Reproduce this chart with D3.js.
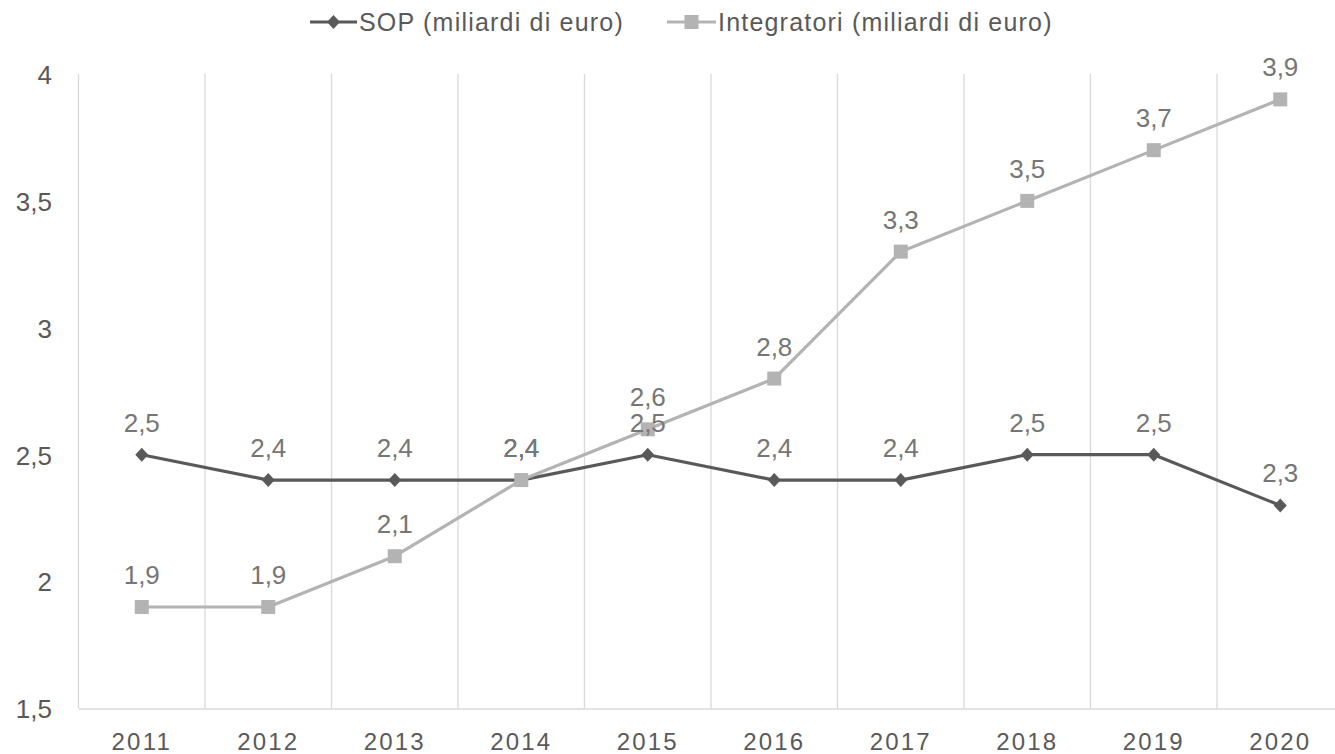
<!DOCTYPE html>
<html>
<head>
<meta charset="utf-8">
<script src="https://cdn.jsdelivr.net/npm/d3@7"></script>
<style>
  html, body { margin: 0; padding: 0; background: #ffffff; }
  svg { display: block; font-family: "Liberation Sans", Arial, Helvetica, sans-serif; }
</style>
</head>
<body>
<svg id="chart" width="1335" height="754"></svg>
<script>
// Anni e serie (miliardi di euro)
const years = ["2011", "2012", "2013", "2014", "2015", "2016", "2017", "2018", "2019", "2020"];
const sopValues = [2.5, 2.4, 2.4, 2.4, 2.5, 2.4, 2.4, 2.5, 2.5, 2.3];
const integratoriValues = [1.9, 1.9, 2.1, 2.4, 2.6, 2.8, 3.3, 3.5, 3.7, 3.9];
const yTicks = [1.5, 2, 2.5, 3, 3.5, 4];
const seriesNames = ["SOP (miliardi di euro)", "Integratori (miliardi di euro)"];

const svg = d3.select("#chart");
const fmt = v => String(v).replace(".", ",");

const x = d3.scaleBand().domain(years).range([78.5, 1343.5]).padding(0);
const y = d3.scaleLinear().domain([1.5, 4]).range([708.5, 74]);
const cx = d => x(d) + x.bandwidth() / 2;

// Vertical gridlines at category boundaries
const bounds = years.map(d => x(d)).concat([x.range()[1]]);
svg.append("g").selectAll("line").data(bounds).join("line")
  .attr("x1", d => d).attr("x2", d => d)
  .attr("y1", y(4)).attr("y2", y(1.5))
  .attr("stroke", "#d9d9d9").attr("stroke-width", 1.3);

// Category axis
const xAxis = svg.append("g")
  .attr("transform", `translate(0,${y(1.5)})`)
  .call(d3.axisBottom(x).tickSize(0).tickPadding(0));
xAxis.select(".domain").attr("stroke", "#d9d9d9").attr("stroke-width", 1.5);
xAxis.selectAll("text")
  .attr("y", 41).attr("dy", 0)
  .attr("fill", "#595959")
  .style("font-size", "24px")
  .style("letter-spacing", "2.2px")
  .style("font-family", "'Liberation Sans', Arial, sans-serif");

// Value axis (labels only)
const yAxis = svg.append("g")
  .attr("transform", "translate(52,0)")
  .call(d3.axisLeft(y).tickValues(yTicks).tickFormat(fmt).tickSize(0).tickPadding(0));
yAxis.select(".domain").remove();
yAxis.selectAll("text")
  .attr("dy", "0.36em")
  .attr("fill", "#595959")
  .style("font-size", "26px")
  .style("font-family", "'Liberation Sans', Arial, sans-serif");

const series = [
  { name: seriesNames[0], values: sopValues, color: "#595959", shape: "diamond" },
  { name: seriesNames[1], values: integratoriValues, color: "#b3b3b3", shape: "square" }
];

const line = d3.line().x((d, i) => cx(years[i])).y(d => y(d));

function drawMarker(g, shape, color) {
  if (shape === "diamond") {
    g.append("path").attr("d", "M0,-7L6.5,0L0,7L-6.5,0Z").attr("fill", color);
  } else {
    g.append("rect").attr("x", -7).attr("y", -7).attr("width", 14).attr("height", 14).attr("fill", color);
  }
}

series.forEach(s => {
  svg.append("path")
    .datum(s.values)
    .attr("d", line)
    .attr("fill", "none")
    .attr("stroke", s.color)
    .attr("stroke-width", 3.2)
    .attr("stroke-linejoin", "round");
});

series.forEach(s => {
  const pts = svg.append("g").selectAll("g").data(s.values).join("g")
    .attr("transform", (d, i) => `translate(${cx(years[i])},${y(d)})`);
  pts.each(function () { drawMarker(d3.select(this), s.shape, s.color); });
});

// Data labels
series.forEach(s => {
  svg.append("g").selectAll("text").data(s.values).join("text")
    .attr("x", (d, i) => cx(years[i]))
    .attr("y", d => y(d) - 23)
    .attr("text-anchor", "middle")
    .attr("fill", "#767676")
    .style("font-size", "26px")
    .text(fmt);
});

// Legend
const legendItems = [
  { x: 310, textX: 359 },
  { x: 667, textX: 718 }
];
series.forEach((s, i) => {
  const g = svg.append("g").attr("transform", `translate(0,22)`);
  const L = legendItems[i];
  g.append("line")
    .attr("x1", L.x).attr("x2", L.textX - 2)
    .attr("y1", 0).attr("y2", 0)
    .attr("stroke", s.color).attr("stroke-width", 3.2);
  const m = g.append("g").attr("transform", `translate(${(L.x + L.textX - 2) / 2},0)`);
  drawMarker(m, s.shape, s.color);
  g.append("text")
    .attr("x", L.textX).attr("y", 9)
    .attr("fill", "#595959")
    .style("font-size", "25px")
    .style("letter-spacing", "1.2px")
    .text(s.name);
});
</script>
</body>
</html>
